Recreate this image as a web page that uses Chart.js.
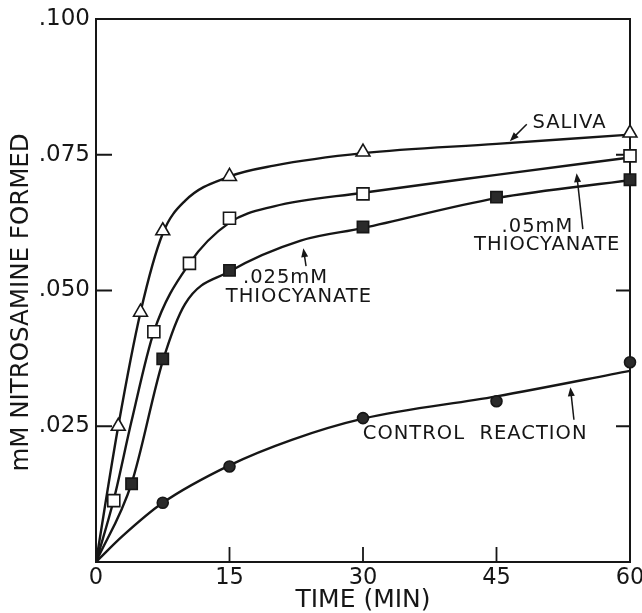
<!DOCTYPE html>
<html>
<head>
<meta charset="utf-8">
<script src="https://cdn.jsdelivr.net/npm/chart.js@4"></script>
<style>
  html, body { margin: 0; padding: 0; background: #fff; }
  #wrap { width: 642px; height: 613px; }
</style>
</head>
<body>
<div id="wrap"><canvas id="chart" width="642" height="613"></canvas></div>
<script>
// Measured points (time in min, mM nitrosamine formed)
const salivaTime = [2.5, 5, 7.5, 15, 30, 60];
const salivaValues = [0.025, 0.046, 0.061, 0.071, 0.0755, 0.079];

const thio05Time = [2, 6.5, 10.5, 15, 30, 60];
const thio05Values = [0.0113, 0.0424, 0.055, 0.0633, 0.0678, 0.0748];

const thio025Time = [4, 7.5, 15, 30, 45, 60];
const thio025Values = [0.0144, 0.0374, 0.0537, 0.0617, 0.0672, 0.0704];

const controlTime = [7.5, 15, 30, 45, 60];
const controlValues = [0.0109, 0.0176, 0.0265, 0.0296, 0.0368];

// Hand-drawn fitted curves
const salivaCurveTime = [0, 2.5, 5, 7.5, 10, 15, 20, 30, 45, 60];
const salivaCurveValues = [0, 0.025, 0.046, 0.0605, 0.0665, 0.071, 0.073, 0.0753, 0.077, 0.0787];

const thio05CurveTime = [0, 2, 4, 6.5, 10.5, 15, 20, 30, 45, 60];
const thio05CurveValues = [0, 0.0115, 0.026, 0.0424, 0.055, 0.0625, 0.0655, 0.068, 0.0713, 0.0745];

const thio025CurveTime = [0, 4, 7.5, 10, 15, 23, 30, 45, 60];
const thio025CurveValues = [0, 0.0145, 0.037, 0.0475, 0.0535, 0.0592, 0.0615, 0.067, 0.0703];

const controlCurveTime = [0, 3, 7.5, 15, 22, 30, 45, 60];
const controlCurveValues = [0, 0.0048, 0.0109, 0.0178, 0.0225, 0.0264, 0.0305, 0.0352];

// Axis ticks
const timeTicks = [0, 15, 30, 45, 60];
const yTicks = [0.025, 0.05, 0.075, 0.1];

const INK = '#161616';
const FONT = '"DejaVu Sans", sans-serif';

function pts(xs, ys) {
  return xs.map((x, i) => ({ x: x, y: ys[i] }));
}

function curve(xs, ys) {
  return {
    type: 'line',
    data: pts(xs, ys),
    borderColor: INK,
    borderWidth: 2.4,
    pointRadius: 0,
    fill: false,
    cubicInterpolationMode: 'monotone',
    order: 2
  };
}

function markers(xs, ys, style, radius, fillColor) {
  return {
    type: 'scatter',
    data: pts(xs, ys),
    pointStyle: style,
    pointRadius: radius,
    pointBackgroundColor: fillColor,
    pointBorderColor: INK,
    pointBorderWidth: 1.6,
    showLine: false,
    clip: false,
    order: 1
  };
}

// Frame, inward ticks, y title and the hand-lettered labels with arrows
const decorations = {
  id: 'decorations',
  beforeDatasetsDraw(chart) {
    const ctx = chart.ctx;
    const a = chart.chartArea;
    const xs = chart.scales.x;
    const ys = chart.scales.y;
    ctx.save();
    ctx.strokeStyle = INK;
    ctx.lineWidth = 2;
    ctx.beginPath();
    ctx.moveTo(a.left, a.top);
    ctx.lineTo(a.right, a.top);
    ctx.lineTo(a.right, a.bottom);
    ctx.stroke();

    ctx.lineWidth = 1.8;
    ctx.beginPath();
    yTicks.slice(0, 3).forEach(v => {
      const py = ys.getPixelForValue(v);
      ctx.moveTo(a.left, py);
      ctx.lineTo(a.left + 16, py);
      ctx.moveTo(a.right, py);
      ctx.lineTo(a.right - 14, py);
    });
    timeTicks.slice(1, 4).forEach(t => {
      const px = xs.getPixelForValue(t);
      ctx.moveTo(px, a.bottom);
      ctx.lineTo(px, a.bottom - 15);
    });
    ctx.stroke();

    // y axis title
    ctx.fillStyle = INK;
    ctx.font = '24.5px ' + FONT;
    ctx.textAlign = 'center';
    ctx.textBaseline = 'middle';
    ctx.translate(22, ys.getPixelForValue(0.0478));
    ctx.rotate(-Math.PI / 2);
    ctx.fillText('mM NITROSAMINE FORMED', 0, 0);
    ctx.restore();
  },
  afterDatasetsDraw(chart) {
    const ctx = chart.ctx;
    const xs = chart.scales.x;
    const ys = chart.scales.y;
    ctx.save();
    ctx.strokeStyle = INK;
    ctx.fillStyle = INK;

    const P = (t, v) => [xs.getPixelForValue(t), ys.getPixelForValue(v)];

    function arrow(from, to) {
      const [x1, y1] = P(from[0], from[1]);
      const [x2, y2] = P(to[0], to[1]);
      const ang = Math.atan2(y2 - y1, x2 - x1);
      ctx.lineWidth = 1.5;
      ctx.beginPath();
      ctx.moveTo(x1, y1);
      ctx.lineTo(x2 - 5 * Math.cos(ang), y2 - 5 * Math.sin(ang));
      ctx.stroke();
      ctx.beginPath();
      ctx.moveTo(x2, y2);
      ctx.lineTo(x2 - 9 * Math.cos(ang) + 3.5 * Math.sin(ang), y2 - 9 * Math.sin(ang) - 3.5 * Math.cos(ang));
      ctx.lineTo(x2 - 9 * Math.cos(ang) - 3.5 * Math.sin(ang), y2 - 9 * Math.sin(ang) + 3.5 * Math.cos(ang));
      ctx.closePath();
      ctx.fill();
    }

    function label(text, t, v) {
      const [x, y] = P(t, v);
      ctx.fillText(text, x, y);
    }

    ctx.font = '19.5px ' + FONT;
    ctx.letterSpacing = '1px';
    ctx.textAlign = 'center';
    ctx.textBaseline = 'middle';

    label('SALIVA', 53.2, 0.0808);
    arrow([48.4, 0.0806], [46.5, 0.0775]);

    label('.05mM', 49.6, 0.0617);
    label('THIOCYANATE', 50.7, 0.0584);
    arrow([54.7, 0.0613], [54.0, 0.0716]);

    label('.025mM', 21.3, 0.0523);
    label('THIOCYANATE', 22.8, 0.0488);
    arrow([23.6, 0.0545], [23.3, 0.0578]);

    label('CONTROL  REACTION', 42.6, 0.0236);
    arrow([53.7, 0.0262], [53.3, 0.0322]);

    ctx.restore();
  }
};

const ctx = document.getElementById('chart').getContext('2d');
const chart = new Chart(ctx, {
  type: 'scatter',
  data: {
    datasets: [
      markers(salivaTime, salivaValues, 'triangle', 8, '#fff'),
      markers(thio05Time, thio05Values, 'rect', 8.5, '#fff'),
      markers(thio025Time, thio025Values, 'rect', 8, '#2a2a2a'),
      markers(controlTime, controlValues, 'circle', 5.5, '#2a2a2a'),
      curve(salivaCurveTime, salivaCurveValues),
      curve(thio05CurveTime, thio05CurveValues),
      curve(thio025CurveTime, thio025CurveValues),
      curve(controlCurveTime, controlCurveValues)
    ]
  },
  options: {
    responsive: false,
    animation: false,
    events: [],
    layout: { padding: { top: 19, right: 12, left: 0, bottom: 0 } },
    plugins: {
      legend: { display: false },
      tooltip: { enabled: false }
    },
    scales: {
      x: {
        type: 'linear',
        min: 0,
        max: 60,
        afterBuildTicks: s => { s.ticks = timeTicks.map(v => ({ value: v })); },
        ticks: {
          color: INK,
          font: { family: FONT, size: 22.5 },
          padding: 3,
          maxRotation: 0
        },
        grid: { display: false, drawTicks: false },
        border: { display: true, color: INK, width: 2 },
        title: {
          display: true,
          text: 'TIME (MIN)',
          color: INK,
          font: { family: FONT, size: 25, lineHeight: 1 },
          padding: { top: 0, bottom: 0 }
        },
        afterFit: s => { s.height = 51; s.paddingLeft = 0; s.paddingRight = 0; }
      },
      y: {
        type: 'linear',
        min: 0,
        max: 0.1,
        afterBuildTicks: s => { s.ticks = yTicks.map(v => ({ value: v })); },
        ticks: {
          color: INK,
          font: { family: FONT, size: 23 },
          padding: 6,
          callback: v => '.' + String(Math.round(v * 1000)).padStart(3, '0')
        },
        grid: { display: false, drawTicks: false },
        border: { display: true, color: INK, width: 2 },
        afterFit: s => { s.width = 96; s.paddingTop = 0; s.paddingBottom = 0; }
      }
    }
  },
  plugins: [decorations]
});
</script>
</body>
</html>
